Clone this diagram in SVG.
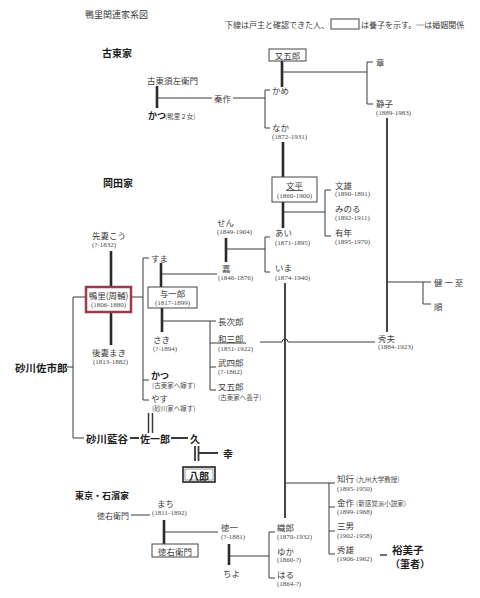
<svg xmlns="http://www.w3.org/2000/svg" width="480" height="598" viewBox="0 0 480 598">
<style>
text{dominant-baseline:central;font-family:"Noto Sans CJK JP","Noto Sans CJK SC",sans-serif;fill:#3c3c3c}
.n{font-size:8.5px}
.d{font-family:"Liberation Serif","Noto Sans CJK JP",serif;font-size:7px;fill:#4a4a4a}
.s{font-size:6.5px;fill:#4a4a4a}
.b{font-weight:bold;font-size:10.5px;fill:#1e1e1e}
.c{text-anchor:middle}
.l{stroke:#3a3a3a;stroke-width:1;fill:none}
.m{stroke:#2a2a2a;stroke-width:2.6;fill:none}
.v{stroke:#333;stroke-width:1.8;fill:none}
.bx{fill:#fff;stroke:#444;stroke-width:1}
</style>
<rect width="480" height="598" fill="#fff"/>
<g id="legend">
<text x="85" y="14" style="font-size:9px">鴨里関連家系図</text>
<text x="225" y="24" style="font-size:8px">下線は戸主と確認できた人、</text>
<rect class="bx" x="331" y="19" width="28" height="10"/>
<text x="361" y="24" style="font-size:8px">は養子を示す。═は婚姻関係</text>
<text class="b" x="102" y="52" style="font-size:10px">古東家</text>
<text class="b" x="103" y="182" style="font-size:10px">岡田家</text>
<text class="b" x="75" y="495" style="font-size:9px">東京・石濱家</text>
</g>
<g id="connectors">
<path class="m" d="M157,86V108"/>
<path class="l" d="M157,98H212M233,98H265M270,90H265V128H270"/>
<path class="m" d="M282,61V87"/>
<path class="l" d="M282,72H367M373,62H367V104H373"/>
<path class="v" d="M387,118V332"/>
<path class="l" d="M387,282H431M423,282V304H431"/>
<path class="l" d="M260,342H282A3,3 0 0 1 288,342H375"/>
<path class="m" d="M283,142V177M283,202V228"/>
<path class="l" d="M283,212H325M331,190H325V236H331"/>
<path class="m" d="M226,238V262"/>
<path class="l" d="M226,249H265M270,237H265V272H270"/>
<path class="v" d="M285,283V518"/>
<path class="l" d="M285,483H329M335,483H329V554H335M329,507H335M329,531H335"/>
<path class="m" d="M111,251V287M111,312V345"/>
<path class="l" d="M86,297H73V438H84M67,367H73"/>
<path class="l" d="M131,297H143M149,258H143V400H149M143,380H149"/>
<path class="m" d="M161,263V287"/>
<path class="l" d="M161,274H217"/>
<path class="m" d="M162,308V332"/>
<path class="l" d="M162,321H210M216,321H210V390H216M210,343H246M210,367H216"/>
<path class="l" style="stroke-width:1.5" d="M148.5,413V433M152.5,413V433"/>
<path class="l" style="stroke-width:2" d="M130,438H139M171,438H188"/>
<path class="l" style="stroke-width:1.8" d="M195,446V461M198.5,446V461M198,453H218"/>
<path class="l" d="M131,515H150"/>
<path class="m" d="M164,520V544"/>
<path class="l" d="M164,532H218"/>
<path class="m" d="M229,544V565"/>
<path class="l" d="M229,556H269M275,532H269V578H275"/>
<path class="l" style="stroke-width:1.5" d="M380,555H387"/>
</g>
<g id="n-kotou-sukezaemon"><text class="n" x="147" y="80">古東須左衛門</text></g>
<g id="n-katsu1"><text class="b" x="148" y="115" style="font-size:9px">かつ</text><text class="s" x="165" y="116">(鴨里２女)</text></g>
<g id="n-taisaku"><text class="n" x="214" y="98">秦作</text></g>
<g id="n-kame"><text class="n" x="272" y="90">かめ</text></g>
<g id="n-naka"><text class="n" x="272" y="127">なか</text><text class="d" x="272" y="137">(1872-1931)</text></g>
<g id="n-matagoro-box"><rect class="bx" x="269" y="49" width="37" height="12"/><text class="n c" x="287.5" y="55">又五郎</text></g>
<g id="n-akira"><text class="n" x="376" y="62">章</text></g>
<g id="n-shizuko"><text class="n" x="376" y="103">静子</text><text class="d" x="376" y="113">(1889-1983)</text></g>
<g id="n-kenichi"><text class="n" x="434" y="282">健 一 至</text></g>
<g id="n-jun"><text class="n" x="434" y="306">順</text></g>
<g id="n-hideo"><text class="n" x="378" y="338">秀夫</text><text class="d" x="378" y="347">(1884-1923)</text></g>
<g id="n-bunpei"><rect class="bx" x="272" y="177" width="45" height="25"/><text class="n c" x="294.5" y="185" style="text-decoration:underline">文平</text><text class="d c" x="294.5" y="196">(1860-1900)</text></g>
<g id="n-fumio"><text class="n" x="335" y="185">文雄</text><text class="d" x="335" y="194">(1890-1891)</text></g>
<g id="n-minoru"><text class="n" x="335" y="208">みのる</text><text class="d" x="335" y="218">(1892-1911)</text></g>
<g id="n-aritoshi"><text class="n" x="335" y="232">有年</text><text class="d" x="335" y="242">(1895-1970)</text></g>
<g id="n-sen"><text class="n" x="217" y="222">せん</text><text class="d" x="217" y="232">(1849-1904)</text></g>
<g id="n-ai"><text class="n" x="275" y="232">あい</text><text class="d" x="275" y="243">(1871-1895)</text></g>
<g id="n-ima"><text class="n" x="275" y="267">いま</text><text class="d" x="275" y="278">(1874-1940)</text></g>
<g id="n-kashi"><text class="n" x="222" y="268">嘉</text><text class="d" x="218" y="278">(1846-1876)</text></g>
<g id="n-senzai-kou"><text class="n" x="92" y="235">先妻こう</text><text class="d" x="92" y="245">(?-1832)</text></g>
<g id="n-ouri"><rect x="86" y="287" width="45" height="25" fill="#fff" stroke="#9b3b4b" stroke-width="2.5"/><text class="n c" x="108.5" y="295">鴨里(周輔)</text><text class="d c" x="108.5" y="305">(1806-1880)</text></g>
<g id="n-gosai-maki"><text class="n" x="92" y="352">後妻まき</text><text class="d" x="93" y="362">(1813-1882)</text></g>
<g id="n-sunagawa-saichiro"><text class="b" x="15" y="367">砂川佐市郎</text></g>
<g id="n-sunagawa-rankoku"><text class="b" x="86" y="438">砂川藍谷</text></g>
<g id="n-saichiro"><text class="b" x="140" y="438" style="font-size:10px">佐一郎</text></g>
<g id="n-hisashi"><text class="b" x="190" y="438" style="font-size:10px">久</text></g>
<g id="n-sachi"><text class="b" x="223" y="453" style="font-size:10px">幸</text></g>
<g id="n-hachiro"><rect x="183" y="467" width="32" height="15" fill="#fff" stroke="#222" stroke-width="1.6"/><rect x="185" y="469" width="28" height="11" fill="none" stroke="#555" stroke-width="0.6"/><text class="b c" x="199" y="475" style="font-size:10px">八郎</text></g>
<g id="n-suma"><text class="n" x="151" y="258">すま</text></g>
<g id="n-yoichiro"><rect class="bx" x="148" y="287" width="49" height="21"/><text class="n c" x="172.5" y="293">与一郎</text><text class="d c" x="172.5" y="303">(1817-1899)</text></g>
<g id="n-saki"><text class="n" x="153" y="339">さき</text><text class="d" x="153" y="349">(?-1894)</text></g>
<g id="n-katsu2"><text class="b" x="151" y="375" style="font-size:9px">かつ</text><text class="s" x="152" y="385">(古東家へ嫁す)</text></g>
<g id="n-yasu"><text class="n" x="151" y="398">やす</text><text class="s" x="152" y="408">(砂川家へ嫁す)</text></g>
<g id="n-chojiro"><text class="n" x="218" y="321">長次郎</text></g>
<g id="n-wasaburo"><text class="n" x="218" y="338">和三郎</text><text class="d" x="218" y="349">(1851-1922)</text></g>
<g id="n-takeshiro"><text class="n" x="218" y="362">武四郎</text><text class="d" x="218" y="372">(?-1862)</text></g>
<g id="n-matagoro"><text class="n" x="218" y="386">又五郎</text><text class="s" x="218" y="397">(古東家へ養子)</text></g>
<g id="n-tomoyuki"><text class="n" x="337" y="478">知行</text><text class="s" x="356" y="479">(九州大学教授)</text><text class="d" x="337" y="489">(1895-1950)</text></g>
<g id="n-kinsaku"><text class="n" x="337" y="502">金作</text><text class="s" x="356" y="503">(新感覚派小説家)</text><text class="d" x="337" y="512">(1899-1968)</text></g>
<g id="n-sanno"><text class="n" x="337" y="525">三男</text><text class="d" x="337" y="536">(1902-1958)</text></g>
<g id="n-hideo2"><text class="n" x="337" y="549">秀雄</text><text class="d" x="337" y="559">(1906-1962)</text></g>
<g id="n-yumiko"><text class="b" x="392" y="549">裕美子</text><text class="b" x="390" y="563" style="font-size:10px">（筆者）</text></g>
<g id="n-tokuemon1"><text class="n" x="97" y="515" style="font-size:8px">徳右衛門</text></g>
<g id="n-machi"><text class="n" x="157" y="503">まち</text><text class="d" x="152" y="513">(1811-1892)</text></g>
<g id="n-tokuemon2"><rect class="bx" x="152" y="544" width="46" height="13"/><text class="n c" x="175" y="550.5">徳右衛門</text></g>
<g id="n-tokuichi"><text class="n" x="221" y="527">徳一</text><text class="d" x="221" y="537">(?-1881)</text></g>
<g id="n-chiyo"><text class="n" x="223" y="573">ちよ</text></g>
<g id="n-oriro"><text class="n" x="277" y="527">織郎</text><text class="d" x="277" y="537">(1870-1932)</text></g>
<g id="n-yuka"><text class="n" x="277" y="551">ゆか</text><text class="d" x="277" y="560">(1860-?)</text></g>
<g id="n-haru"><text class="n" x="277" y="574">はる</text><text class="d" x="277" y="584">(1864-?)</text></g>
</svg>
